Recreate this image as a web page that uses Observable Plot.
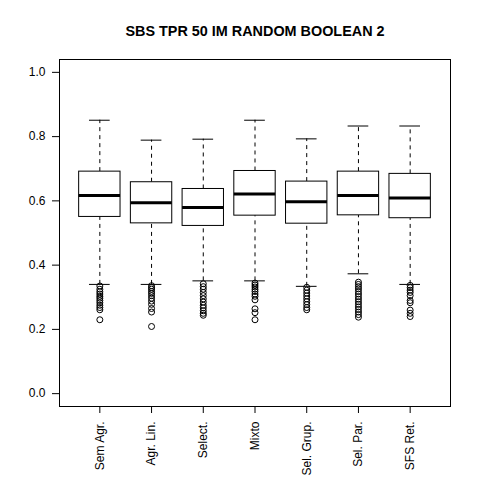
<!DOCTYPE html>
<html><head><meta charset="utf-8">
<script src="https://cdn.jsdelivr.net/npm/d3@7"></script>
<script src="https://cdn.jsdelivr.net/npm/@observablehq/plot@0.6"></script>
<style>body{margin:0;background:#fff}#chart{width:480px;height:480px}</style>
</head><body><div id="chart"></div>
<script>
const title = "SBS TPR 50 IM RANDOM BOOLEAN 2";
const categories = ["Sem Agr.", "Agr. Lin.", "Select.", "Mixto", "Sel. Grup.", "Sel. Par.", "SFS Ret."];
const lowerWhisker = [0.340, 0.340, 0.351, 0.351, 0.334, 0.373, 0.340];
const q1Values     = [0.550, 0.530, 0.522, 0.554, 0.529, 0.555, 0.546];
const medianValues = [0.617, 0.594, 0.579, 0.621, 0.597, 0.617, 0.609];
const q3Values     = [0.691, 0.658, 0.637, 0.693, 0.660, 0.691, 0.684];
const upperWhisker = [0.851, 0.789, 0.792, 0.851, 0.793, 0.833, 0.833];
const outlierValues = [
  [0.335, 0.325, 0.317, 0.310, 0.303, 0.297, 0.290, 0.283, 0.275, 0.268, 0.261, 0.230],
  [0.336, 0.330, 0.325, 0.318, 0.312, 0.305, 0.297, 0.288, 0.278, 0.265, 0.254, 0.209],
  [0.342, 0.333, 0.325, 0.315, 0.305, 0.295, 0.285, 0.275, 0.267, 0.258, 0.250, 0.244],
  [0.344, 0.338, 0.332, 0.325, 0.318, 0.310, 0.303, 0.292, 0.264, 0.252, 0.230],
  [0.331, 0.322, 0.313, 0.304, 0.295, 0.286, 0.277, 0.268, 0.261],
  [0.347, 0.340, 0.333, 0.326, 0.318, 0.310, 0.302, 0.294, 0.286, 0.278, 0.270, 0.262, 0.254, 0.246, 0.238],
  [0.337, 0.330, 0.322, 0.315, 0.305, 0.290, 0.283, 0.260, 0.250, 0.240]
];
const yTicks = [0, 0.2, 0.4, 0.6, 0.8, 1.0];

const boxes = categories.map((c, i) => ({
  pos: i + 1, name: c,
  lower: lowerWhisker[i], q1: q1Values[i], median: medianValues[i], q3: q3Values[i], upper: upperWhisker[i]
}));
const outlierRows = outlierValues.flatMap((vals, i) => vals.map(v => ({pos: i + 1, v})));
const boxHalf = 0.4, capHalf = 0.2;

const chart = Plot.plot({
  width: 480, height: 480,
  marginLeft: 59, marginRight: 30, marginTop: 59, marginBottom: 74,
  style: {fontFamily: "'Liberation Sans', Arial, Helvetica, sans-serif", fontSize: "12px", color: "black", background: "white"},
  x: {type: "linear", domain: [0.22, 7.78]},
  y: {domain: [-0.04, 1.04]},
  marks: [
    Plot.ruleX(boxes, {x: "pos", y1: "q3", y2: "upper", stroke: "black", strokeDasharray: "4,4"}),
    Plot.ruleX(boxes, {x: "pos", y1: "lower", y2: "q1", stroke: "black", strokeDasharray: "4,4"}),
    Plot.ruleY(boxes, {y: "upper", x1: d => d.pos - capHalf, x2: d => d.pos + capHalf, stroke: "black"}),
    Plot.ruleY(boxes, {y: "lower", x1: d => d.pos - capHalf, x2: d => d.pos + capHalf, stroke: "black"}),
    Plot.rect(boxes, {x1: d => d.pos - boxHalf, x2: d => d.pos + boxHalf, y1: "q1", y2: "q3", fill: "white", stroke: "black"}),
    Plot.ruleY(boxes, {y: "median", x1: d => d.pos - boxHalf, x2: d => d.pos + boxHalf, stroke: "black", strokeWidth: 3}),
    Plot.dot(outlierRows, {x: "pos", y: "v", r: 3, stroke: "black", fill: "none", strokeWidth: 1}),
    Plot.frame({stroke: "black"}),
    Plot.axisY({ticks: yTicks, tickFormat: d3.format(".1f"), tickSize: 7, tickPadding: 7, label: null, fontSize: 12}),
    Plot.axisX({ticks: d3.range(1, 8), tickFormat: i => categories[i - 1], tickRotate: -90, tickSize: 7, tickPadding: 8, label: null, fontSize: 12}),
    Plot.text([title], {frameAnchor: "top", dy: -28, lineAnchor: "middle", fontWeight: "bold", fontSize: 14.4, fill: "black"})
  ]
});
document.getElementById("chart").appendChild(chart);
</script>
</body></html>
